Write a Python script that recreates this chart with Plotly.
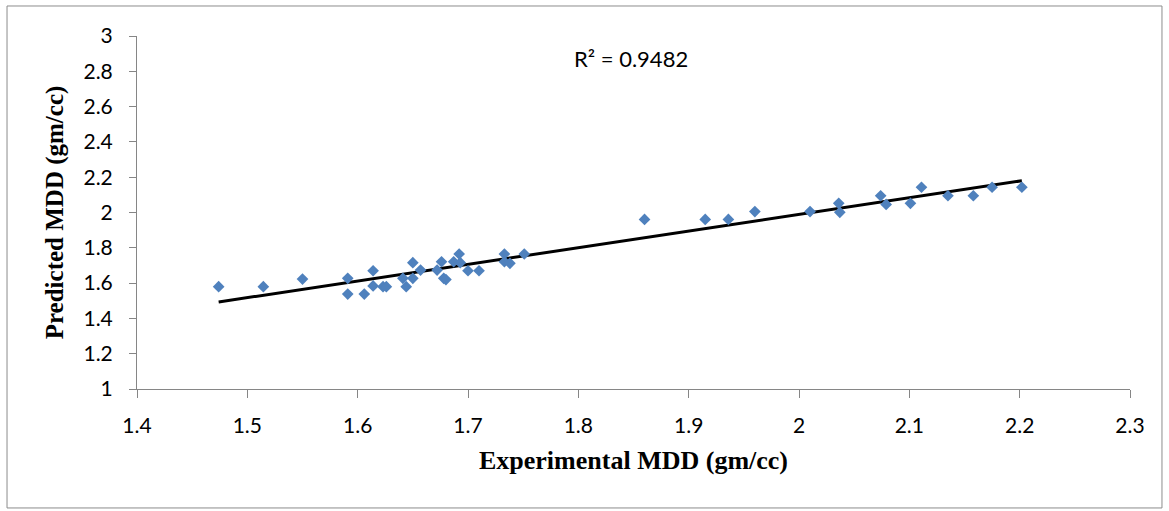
import numpy as np
import plotly.graph_objects as go

experimental = [1.474, 1.5145, 1.550, 1.591, 1.591, 1.606, 1.614, 1.614, 1.623, 1.626,
                1.641, 1.644, 1.650, 1.650, 1.657, 1.672, 1.676, 1.678, 1.680, 1.687,
                1.692, 1.693, 1.700, 1.710, 1.733, 1.733, 1.738, 1.751,
                1.860, 1.915, 1.936, 1.960, 2.010, 2.036, 2.037, 2.074, 2.079,
                2.101, 2.111, 2.135, 2.158, 2.175, 2.202]
predicted = [1.580, 1.580, 1.623, 1.627, 1.538, 1.538, 1.670, 1.584, 1.580, 1.580,
             1.627, 1.580, 1.716, 1.627, 1.674, 1.674, 1.721, 1.627, 1.620, 1.721,
             1.765, 1.716, 1.670, 1.670, 1.765, 1.721, 1.712, 1.765,
             1.961, 1.961, 1.961, 2.005, 2.005, 2.052, 2.001, 2.095, 2.046,
             2.052, 2.143, 2.095, 2.095, 2.143, 2.143]
r2_label = "R² = 0.9482"
x_ticks = [1.4, 1.5, 1.6, 1.7, 1.8, 1.9, 2.0, 2.1, 2.2, 2.3]
y_ticks = [1, 1.2, 1.4, 1.6, 1.8, 2.0, 2.2, 2.4, 2.6, 2.8, 3]

slope, intercept = np.polyfit(experimental, predicted, 1)
x_fit = [min(experimental), max(experimental)]
y_fit = [slope * v + intercept for v in x_fit]

fig = go.Figure()
fig.add_trace(go.Scatter(x=x_fit, y=y_fit, mode="lines",
                         line=dict(color="black", width=3), showlegend=False, hoverinfo="skip"))
fig.add_trace(go.Scatter(x=experimental, y=predicted, mode="markers",
                         marker=dict(symbol="diamond", size=9, color="#4F81BD"),
                         showlegend=False))

tickfont = dict(family="Lato, Liberation Sans, sans-serif", size=21, color="black")
xtitlefont = dict(family="Liberation Serif, Times New Roman, serif", size=26, color="black")
ytitlefont = dict(family="Liberation Serif, Times New Roman, serif", size=25, color="black")

fig.update_layout(
    width=1169, height=511,
    margin=dict(l=137, r=39, t=36, b=122),
    paper_bgcolor="white", plot_bgcolor="white",
    xaxis=dict(range=[1.4, 2.3], tickvals=x_ticks, ticktext=[f"{v:g}" for v in x_ticks],
               showgrid=False, zeroline=False, showline=True, linecolor="#868686", linewidth=1,
               ticks="outside", ticklen=8, tickcolor="#868686", tickfont=tickfont,
               ticklabelstandoff=10,
               title=dict(text="<b>Experimental MDD (gm/cc)</b>", font=xtitlefont, standoff=14)),
    yaxis=dict(range=[1, 3], tickvals=y_ticks, ticktext=[f"{v:g}" for v in y_ticks],
               showgrid=False, zeroline=False, showline=True, linecolor="#868686", linewidth=1,
               ticks="outside", ticklen=7, tickcolor="#868686", tickfont=tickfont,
               ticklabelstandoff=12,
               title=dict(text="<b>Predicted MDD (gm/cc)</b>", font=ytitlefont, standoff=12)),
    shapes=[dict(type="rect", xref="paper", yref="paper",
                 x0=-0.1309, x1=1.0322, y0=-0.337, y1=1.085,
                 line=dict(color="#8c8c8c", width=1), fillcolor="rgba(0,0,0,0)", layer="below")],
    annotations=[dict(text=r2_label, xref="paper", yref="paper", x=0.4975, y=0.935,
                      showarrow=False, xanchor="center", yanchor="middle",
                      font=dict(family="Lato, Liberation Sans, sans-serif", size=22, color="black"))],
)

fig.write_html("out.html")
